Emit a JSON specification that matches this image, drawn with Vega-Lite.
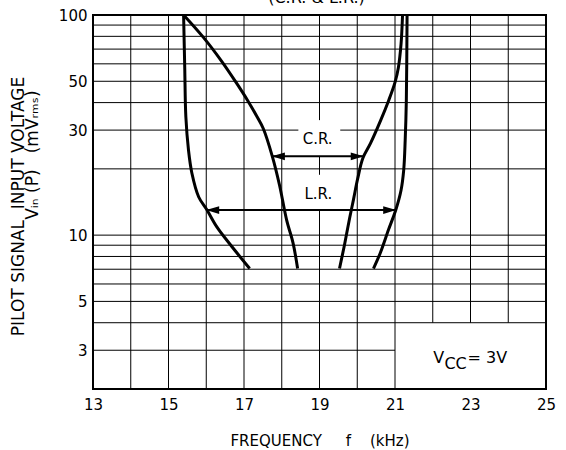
{
  "$schema": "https://vega.github.io/schema/vega-lite/v6.json",
  "autosize": {"type": "none"},
  "padding": {"left": 93, "top": 15, "right": 20, "bottom": 61},
  "width": 453,
  "height": 374,
  "background": "white",
  "title": {"text": "(C.R. & L.R.)", "frame": "group", "anchor": "middle", "font": "DejaVu Sans", "fontSize": 16, "fontWeight": "normal", "color": "black", "offset": 2, "dx": -3},
  "config": {
    "view": {"stroke": "black", "strokeWidth": 2},
    "text": {"font": "DejaVu Sans", "color": "black"}
  },
  "datasets": {
    "vgrid": [
      {"x": 14, "y": 2, "y2": 100}, {"x": 15, "y": 2, "y2": 100}, {"x": 16, "y": 2, "y2": 100},
      {"x": 17, "y": 2, "y2": 100}, {"x": 18, "y": 2, "y2": 100},
      {"x": 19, "y": 2, "y2": 13}, {"x": 19, "y": 18.8, "y2": 22.8}, {"x": 19, "y": 33.3, "y2": 100},
      {"x": 20, "y": 2, "y2": 100}, {"x": 21, "y": 2, "y2": 100},
      {"x": 22, "y": 4, "y2": 100}, {"x": 23, "y": 4, "y2": 100}, {"x": 24, "y": 4, "y2": 100}
    ],
    "hgrid": [
      {"y": 3, "x": 13, "x2": 21}, {"y": 4, "x": 13, "x2": 25}, {"y": 5, "x": 13, "x2": 25},
      {"y": 6, "x": 13, "x2": 25}, {"y": 7, "x": 13, "x2": 25}, {"y": 8, "x": 13, "x2": 25},
      {"y": 9, "x": 13, "x2": 25}, {"y": 10, "x": 13, "x2": 25}, {"y": 20, "x": 13, "x2": 25},
      {"y": 30, "x": 13, "x2": 18.44}, {"y": 30, "x": 19.55, "x2": 25},
      {"y": 40, "x": 13, "x2": 25}, {"y": 50, "x": 13, "x2": 25}, {"y": 60, "x": 13, "x2": 25},
      {"y": 70, "x": 13, "x2": 25}, {"y": 80, "x": 13, "x2": 25}, {"y": 90, "x": 13, "x2": 25}
    ],
    "curves": [
      {"curve": "a", "i": 1, "x": 15.40, "y": 100}, {"curve": "a", "i": 2, "x": 15.43, "y": 57.8},
      {"curve": "a", "i": 3, "x": 15.46, "y": 34.4}, {"curve": "a", "i": 4, "x": 15.53, "y": 24.3},
      {"curve": "a", "i": 5, "x": 15.62, "y": 19.1}, {"curve": "a", "i": 6, "x": 15.80, "y": 14.9},
      {"curve": "a", "i": 7, "x": 16.02, "y": 13.0}, {"curve": "a", "i": 8, "x": 16.28, "y": 10.9},
      {"curve": "a", "i": 9, "x": 16.64, "y": 9.04}, {"curve": "a", "i": 10, "x": 17.15, "y": 7.05},
      {"curve": "b", "i": 1, "x": 15.40, "y": 100}, {"curve": "b", "i": 2, "x": 15.93, "y": 78.9},
      {"curve": "b", "i": 3, "x": 16.40, "y": 61.9}, {"curve": "b", "i": 4, "x": 16.79, "y": 49.4},
      {"curve": "b", "i": 5, "x": 17.10, "y": 40.8}, {"curve": "b", "i": 6, "x": 17.35, "y": 34.4},
      {"curve": "b", "i": 7, "x": 17.51, "y": 30.5}, {"curve": "b", "i": 8, "x": 17.75, "y": 22.8},
      {"curve": "b", "i": 9, "x": 17.94, "y": 16.9}, {"curve": "b", "i": 10, "x": 18.13, "y": 11.7},
      {"curve": "b", "i": 11, "x": 18.30, "y": 9.2}, {"curve": "b", "i": 12, "x": 18.42, "y": 7.05},
      {"curve": "c", "i": 1, "x": 19.53, "y": 7.05}, {"curve": "c", "i": 2, "x": 19.66, "y": 9.0},
      {"curve": "c", "i": 3, "x": 19.80, "y": 12.0}, {"curve": "c", "i": 4, "x": 19.90, "y": 14.5},
      {"curve": "c", "i": 5, "x": 20.01, "y": 18.0}, {"curve": "c", "i": 6, "x": 20.15, "y": 22.4},
      {"curve": "c", "i": 7, "x": 20.35, "y": 26.1}, {"curve": "c", "i": 8, "x": 20.62, "y": 33.2},
      {"curve": "c", "i": 9, "x": 20.83, "y": 40.8}, {"curve": "c", "i": 10, "x": 21.00, "y": 49.4},
      {"curve": "c", "i": 11, "x": 21.09, "y": 57.8}, {"curve": "c", "i": 12, "x": 21.16, "y": 73.7},
      {"curve": "c", "i": 13, "x": 21.20, "y": 100},
      {"curve": "d", "i": 1, "x": 20.43, "y": 7.05}, {"curve": "d", "i": 2, "x": 20.61, "y": 8.3},
      {"curve": "d", "i": 3, "x": 20.83, "y": 10.6}, {"curve": "d", "i": 4, "x": 21.02, "y": 13.0},
      {"curve": "d", "i": 5, "x": 21.16, "y": 16.0}, {"curve": "d", "i": 6, "x": 21.23, "y": 19.7},
      {"curve": "d", "i": 7, "x": 21.27, "y": 27}, {"curve": "d", "i": 8, "x": 21.30, "y": 40.8},
      {"curve": "d", "i": 9, "x": 21.32, "y": 100}
    ],
    "arrows": [
      {"x": 17.74, "x2": 20.17, "y": 22.8},
      {"x": 16.00, "x2": 21.03, "y": 13.0}
    ],
    "heads": [
      {"x": 17.91, "y": 22.8, "dir": "L"}, {"x": 20.00, "y": 22.8, "dir": "R"},
      {"x": 16.17, "y": 13.0, "dir": "L"}, {"x": 20.86, "y": 13.0, "dir": "R"}
    ],
    "labels": [
      {"label": "C.R.", "x": 18.95, "y": 27.3},
      {"label": "L.R.", "x": 18.97, "y": 15.4}
    ],
    "vcc": [
      {"label": "V", "x": 22.01, "y": 2.62},
      {"label": "CC", "x": 22.31, "y": 2.47},
      {"label": "= 3V", "x": 22.92, "y": 2.62}
    ]
  },
  "encoding": {
    "x": {
      "field": "x", "type": "quantitative",
      "scale": {"domain": [13, 25], "nice": false, "zero": false},
      "axis": {
        "values": [13, 15, 17, 19, 21, 23, 25], "format": "d",
        "ticks": false, "domain": false, "grid": false,
        "labelFlush": false, "labelOverlap": false, "labelBound": false,
        "labelFont": "DejaVu Sans", "labelFontSize": 15, "labelColor": "black", "labelPadding": 8,
        "title": "FREQUENCY\u00a0\u00a0\u00a0\u00a0\u00a0f\u00a0\u00a0\u00a0\u00a0(kHz)",
        "titleFont": "DejaVu Sans", "titleFontSize": 15, "titleFontWeight": "normal", "titleColor": "black",
        "titleBaseline": "alphabetic", "titleY": 56
      }
    },
    "y": {
      "field": "y", "type": "quantitative",
      "scale": {"type": "log", "domain": [2, 100], "nice": false},
      "axis": {
        "values": [3, 5, 10, 30, 50, 100], "format": "d",
        "ticks": false, "domain": false, "grid": false,
        "labelFlush": false, "labelOverlap": false, "labelBound": false,
        "labelFont": "DejaVu Sans", "labelFontSize": 15, "labelColor": "black", "labelPadding": 6,
        "title": ["PILOT SIGNAL\u00a0\u00a0INPUT VOLTAGE", "\u200b\u00a0\u00a0\u00a0\u00a0\u00a0\u00a0\u00a0\u00a0\u00a0\u00a0\u00a0\u00a0\u00a0\u00a0\u00a0\u00a0\u00a0\u00a0\u00a0V\u1d62\u2099 (P)\u00a0\u00a0\u00a0(mV\u1d63\u2098\u209b)"],
        "titleFont": "DejaVu Sans", "titleFontSize": 17, "titleFontWeight": "normal", "titleColor": "black",
        "titleAngle": 270, "titleAlign": "center", "titleBaseline": "alphabetic",
        "titleLineHeight": 14, "titleX": -70, "titleY": 191
      }
    }
  },
  "layer": [
    {
      "data": {"name": "vgrid"},
      "mark": {"type": "rule", "color": "black", "strokeWidth": 1},
      "encoding": {"y2": {"field": "y2"}}
    },
    {
      "data": {"name": "hgrid"},
      "mark": {"type": "rule", "color": "black", "strokeWidth": 1},
      "encoding": {"x2": {"field": "x2"}}
    },
    {
      "data": {"name": "curves"},
      "mark": {"type": "line", "color": "black", "strokeWidth": 3, "interpolate": "catmull-rom"},
      "encoding": {"detail": {"field": "curve"}, "order": {"field": "i", "type": "quantitative"}}
    },
    {
      "data": {"name": "arrows"},
      "mark": {"type": "rule", "color": "black", "strokeWidth": 2},
      "encoding": {"x2": {"field": "x2"}}
    },
    {
      "data": {"name": "heads"},
      "mark": {"type": "point", "filled": true, "color": "black", "opacity": 1, "size": 169, "strokeWidth": 0},
      "encoding": {
        "shape": {"field": "dir", "type": "nominal", "legend": null,
          "scale": {"domain": ["L", "R"], "range": ["M-1,0L1,-0.6L1,0.6Z", "M1,0L-1,-0.6L-1,0.6Z"]}}
      }
    },
    {
      "data": {"name": "labels"},
      "mark": {"type": "text", "fontSize": 15, "align": "center", "baseline": "middle"},
      "encoding": {"text": {"field": "label"}}
    },
    {
      "data": {"name": "vcc"},
      "mark": {"type": "text", "fontSize": 16, "align": "left", "baseline": "alphabetic"},
      "encoding": {"text": {"field": "label"}}
    }
  ]
}
